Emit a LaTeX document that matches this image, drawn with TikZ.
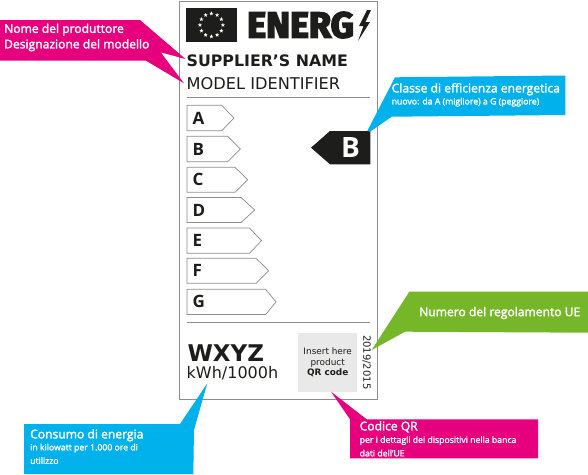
\documentclass[tikz,border=0pt]{standalone}
\usepackage{fontspec}
\usetikzlibrary{shapes.geometric}
\setmainfont{Open Sans}[FakeBold=2.2]
\newfontfamily\labfont{Open Sans}
\newfontfamily\logofont{Fira Sans}[BoldFeatures={FakeBold=4.5}]
\newfontfamily\djv{DejaVu Sans}
\definecolor{pinkc}{HTML}{E6007E}
\definecolor{bluec}{HTML}{00B1EB}
\definecolor{greenc}{HTML}{76B72A}
\definecolor{blackc}{HTML}{1D1D1B}
\definecolor{edgec}{HTML}{8C8C8C}
\definecolor{qrc}{HTML}{E9E9E9}
\newcommand{\subf}{\fontsize{8.7}{10}\selectfont}
\tikzset{
  x=1pt,y=-1pt,
  call/.style={anchor=north west,inner sep=0pt,text=white,font=\fontsize{12.1}{15.5}\selectfont,align=left},
  cls/.style={draw=edgec,line width=.7pt,fill=white,line join=miter},
  clslab/.style={anchor=west,inner sep=0pt,text=blackc,font=\labfont\fontsize{17}{17}\selectfont\bfseries},
  rulec/.style={draw=edgec,line width=.8pt},
  estar/.style={star,star points=5,star point ratio=2.4,fill=white,inner sep=0pt,minimum size=4.4pt},
}
\newcommand{\clsarrow}[5]{% label, ytop, ybot, neck, tip
  \draw[cls] (187,#2) -- (#4,#2) -- (#5,{(#2+#3)/2}) -- (#4,#3) -- (187,#3) -- cycle;
  \node[clslab] (lab#1) at (192.5,{(#2+#3)/2}) {#1};
}
\begin{document}
\begin{tikzpicture}
\useasboundingbox (0,0) rectangle (588,474);
% card
\draw[draw=edgec,line width=.9pt,fill=white] (179.5,1) rectangle (377.7,399);
% logo
\fill[blackc] (186,8) rectangle (236.7,42);
\foreach \a in {0,30,...,330}
  \node[estar] at ({211.4+11.5*cos(\a)},{25-11.5*sin(\a)}) {};
\node[anchor=west,inner sep=0pt,text=blackc,font=\logofont\fontsize{36}{36}\selectfont\bfseries] (logo) at (247,25) {ENERG};
\fill[blackc] (367,10) -- (359,26) -- (363.5,26) -- (358,41) -- (370,22) -- (365.5,22) -- (371,10) -- cycle;
% names
\node[anchor=base west,inner sep=0pt,text=blackc,font=\djv\fontsize{15.8}{15}\selectfont\bfseries] (sup) at (186.5,66.3) {SUPPLIER’S NAME};
\node[anchor=base west,inner sep=0pt,text=blackc,font=\djv\fontsize{16.2}{15}\selectfont] (mod) at (186.5,89) {MODEL IDENTIFIER};
\draw[rulec] (187,97.3) -- (370,97.3);
% classes
\clsarrow{A}{105.3}{130.7}{221.7}{234}
\clsarrow{B}{136.3}{161.7}{227.7}{240.3}
\clsarrow{C}{167.3}{192.3}{235}{247.7}
\clsarrow{D}{197.5}{222.5}{241}{254.7}
\clsarrow{E}{228}{253.3}{249.5}{261.5}
\clsarrow{F}{258.3}{283.3}{256}{268.7}
\clsarrow{G}{289.3}{314.5}{265.7}{276}
\draw[rulec] (187,322.3) -- (370,322.3);
% black arrow
\fill[blackc] (311,147.7) -- (330,131) -- (370.3,131) -- (370.3,164.3) -- (330,164.3) -- cycle;
\node[inner sep=0pt,text=white,font=\labfont\fontsize{28}{28}\selectfont\bfseries] (bigb) at (350.5,148) {B};
% bottom
\node[anchor=base west,inner sep=0pt,text=blackc,font=\djv\fontsize{23}{23}\selectfont\bfseries] (wxyz) at (187.3,361) {WXYZ};
\node[anchor=base west,inner sep=0pt,text=blackc,font=\djv\fontsize{16}{16}\selectfont] (kwh) at (186.5,378.3) {kWh/1000h};
\fill[qrc] (298.3,333.3) rectangle (357,391.7);
\node[inner sep=0pt,align=center,text=blackc,font=\djv\fontsize{8.9}{10.6}\selectfont] (qr) at (327.7,362.5) {Insert here\\product\\{\bfseries QR code}};
\node[inner sep=0pt,rotate=-90,text=blackc,font=\djv\fontsize{10}{10}\selectfont] (reg) at (366.7,362.3) {2019/2015};
% callouts
\fill[pinkc] (0,20) -- (140,20) -- (185.5,59) -- (160.7,52.3) -- (184,83.3) -- (146,60.7) -- (0,60.7) -- cycle;
\node[call] (c1) at (4,23.5) {Nome del produttore\\Designazione del modello};
\fill[bluec] (395,77.3) -- (565.3,75.5) -- (565.3,115) -- (391.7,116.7) -- (370,131.7) -- (367.3,131) -- cycle;
\node[call] (c2) at (391.5,83) {Classe di efficienza energetica\\[-3.5pt]{\subf nuovo: da A (migliore) a G (peggiore)}};
\fill[greenc] (409.3,291.7) -- (588,291.7) -- (588,332.7) -- (405,331.7) -- (371.7,350) -- cycle;
\node[call,anchor=west] (c3) at (419,313) {Numero del regolamento UE};
\fill[pinkc] (331,391.7) -- (366.7,419.3) -- (538,419.3) -- (538,458.3) -- (350,458.3) -- (350,419.3) -- cycle;
\node[call] (c4) at (359.5,421) {Codice QR\\[-3pt]{\subf per i dettagli dei dispositivi nella banca}\\[-2pt]{\subf dati dell'UE}};
\fill[bluec] (24,424) -- (180,424) -- (207.3,383.3) -- (194,430) -- (193.3,474) -- (24,474) -- cycle;
\node[call] (c5) at (30,429) {Consumo di energia\\[-3.5pt]{\subf in kilowatt per 1.000 ore di}\\[-2pt]{\subf utilizzo}};
\end{tikzpicture}
\end{document}
